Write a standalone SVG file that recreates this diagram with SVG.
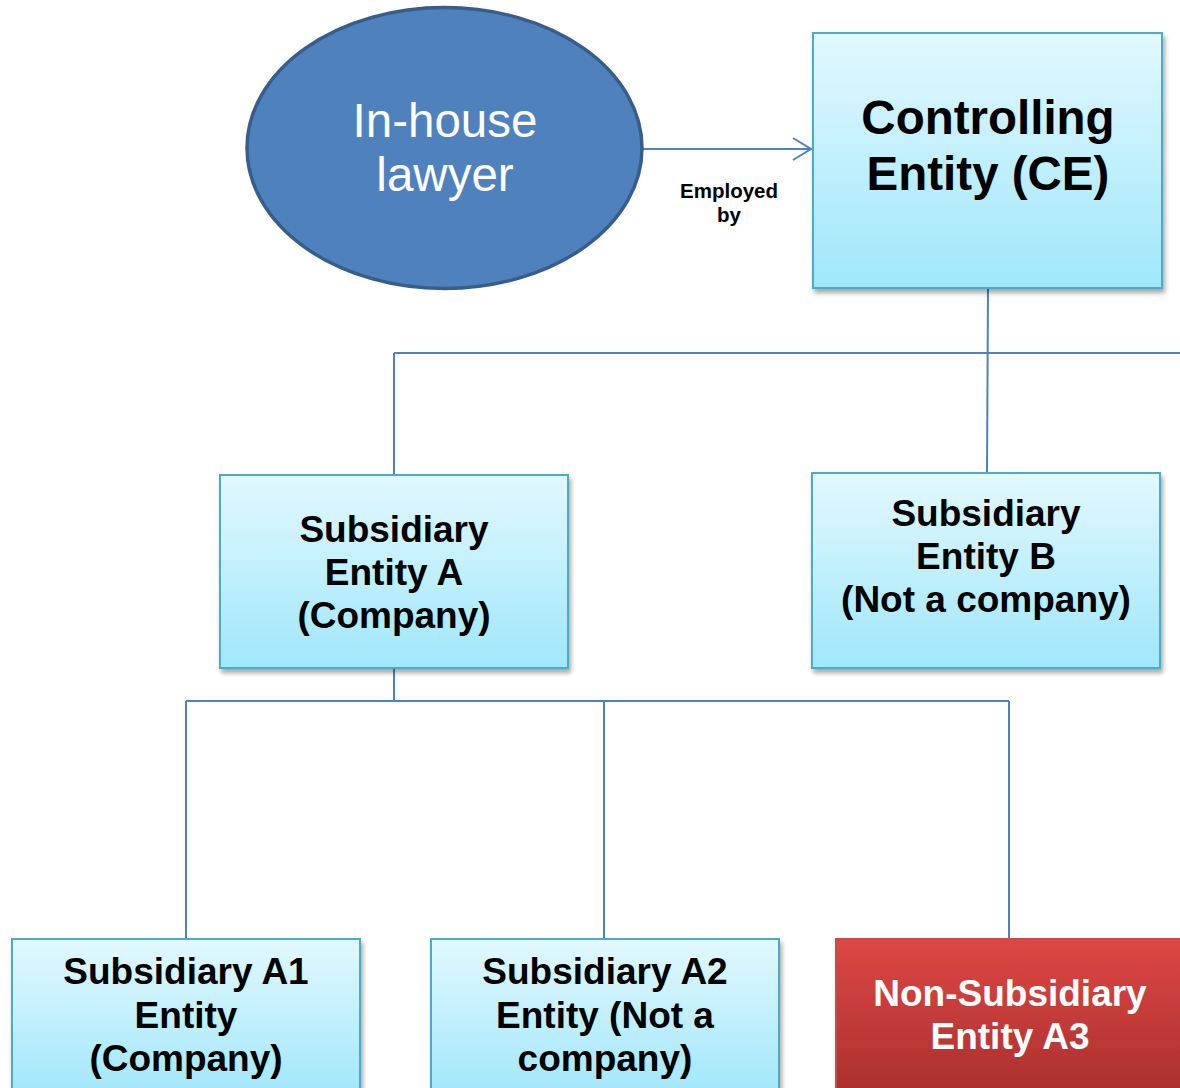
<svg xmlns="http://www.w3.org/2000/svg" width="1180" height="1088" viewBox="0 0 1180 1088">
<defs>
<linearGradient id="blue" x1="0" y1="0" x2="0" y2="1">
<stop offset="0" stop-color="#e2f8fe"/>
<stop offset="1" stop-color="#a0e7fb"/>
</linearGradient>
<linearGradient id="red" x1="0" y1="0" x2="0" y2="1">
<stop offset="0" stop-color="#dd4744"/>
<stop offset="1" stop-color="#a92f2c"/>
</linearGradient>
<filter id="sh" x="-10%" y="-10%" width="125%" height="125%">
<feGaussianBlur in="SourceAlpha" stdDeviation="2.5"/>
<feOffset dx="2" dy="4" result="b"/>
<feComponentTransfer><feFuncA type="linear" slope="0.35"/></feComponentTransfer>
<feMerge><feMergeNode/><feMergeNode in="SourceGraphic"/></feMerge>
</filter>
<marker id="arr" markerWidth="24" markerHeight="26" refX="20" refY="12" orient="auto" markerUnits="userSpaceOnUse">
<path d="M2,1 L20,12 L2,23" fill="none" stroke="#4f81bd" stroke-width="2"/>
</marker>
</defs>
<style>
.box{fill:url(#blue);stroke:#4bacc6;stroke-width:2;filter:url(#sh)}
.redbox{fill:url(#red);stroke:#c0504d;stroke-width:2;filter:url(#sh)}
.t{font-family:"Liberation Sans",Arial,sans-serif;font-weight:bold;text-anchor:middle;fill:#000}
.tm{font-size:37px}
.tl{font-size:47.5px}
.w{fill:#fff}
.conn{fill:none;stroke:#4f81bd;stroke-width:2}
</style>
<rect width="1180" height="1088" fill="#fff"/>
<g id="connectors">
<line class="conn" x1="643" y1="149" x2="811" y2="149" marker-end="url(#arr)"/>
<line class="conn" x1="988" y1="288" x2="987" y2="473"/>
<line class="conn" x1="394" y1="353" x2="1180" y2="353"/>
<line class="conn" x1="394" y1="353" x2="394" y2="475"/>
<line class="conn" x1="394" y1="669" x2="394" y2="701"/>
<line class="conn" x1="186" y1="701" x2="1009" y2="701"/>
<line class="conn" x1="186" y1="701" x2="186" y2="939"/>
<line class="conn" x1="604" y1="701" x2="604" y2="939"/>
<line class="conn" x1="1009" y1="701" x2="1009" y2="939"/>
<text class="t" style="font-size:20.5px" x="729" y="198">Employed</text>
<text class="t" style="font-size:20.5px" x="729" y="222">by</text>
</g>
<g id="lawyer">
<ellipse cx="444.5" cy="148" rx="197.5" ry="140.5" fill="#4f81bd" stroke="#385d8a" stroke-width="3.5"/>
<text x="445" y="137" style="font-family:'Liberation Sans',Arial,sans-serif;font-size:47.5px;text-anchor:middle;fill:#fff">In-house</text>
<text x="445" y="191" style="font-family:'Liberation Sans',Arial,sans-serif;font-size:47.5px;text-anchor:middle;fill:#fff">lawyer</text>
</g>
<g id="ce">
<rect class="box" x="813" y="33" width="349" height="255"/>
<text class="t tl" x="988" y="134">Controlling</text>
<text class="t tl" x="988" y="190">Entity (CE)</text>
</g>
<g id="subA">
<rect class="box" x="220" y="475" width="348" height="193"/>
<text class="t tm" x="394" y="542">Subsidiary</text>
<text class="t tm" x="394" y="585">Entity A</text>
<text class="t tm" x="394" y="628">(Company)</text>
</g>
<g id="subB">
<rect class="box" x="812" y="473" width="348" height="195"/>
<text class="t tm" x="986" y="526">Subsidiary</text>
<text class="t tm" x="986" y="569">Entity B</text>
<text class="t tm" x="986" y="612">(Not a company)</text>
</g>
<g id="subA1">
<rect class="box" x="12" y="939" width="348" height="160"/>
<text class="t tm" x="186" y="984">Subsidiary A1</text>
<text class="t tm" x="186" y="1028">Entity</text>
<text class="t tm" x="186" y="1071">(Company)</text>
</g>
<g id="subA2">
<rect class="box" x="431" y="939" width="348" height="160"/>
<text class="t tm" x="605" y="984">Subsidiary A2</text>
<text class="t tm" x="605" y="1028">Entity (Not a</text>
<text class="t tm" x="605" y="1071">company)</text>
</g>
<g id="nonSubA3">
<rect class="redbox" x="836" y="939" width="360" height="160"/>
<text class="t tm w" x="1010" y="1006">Non-Subsidiary</text>
<text class="t tm w" x="1010" y="1049">Entity A3</text>
</g>
</svg>
